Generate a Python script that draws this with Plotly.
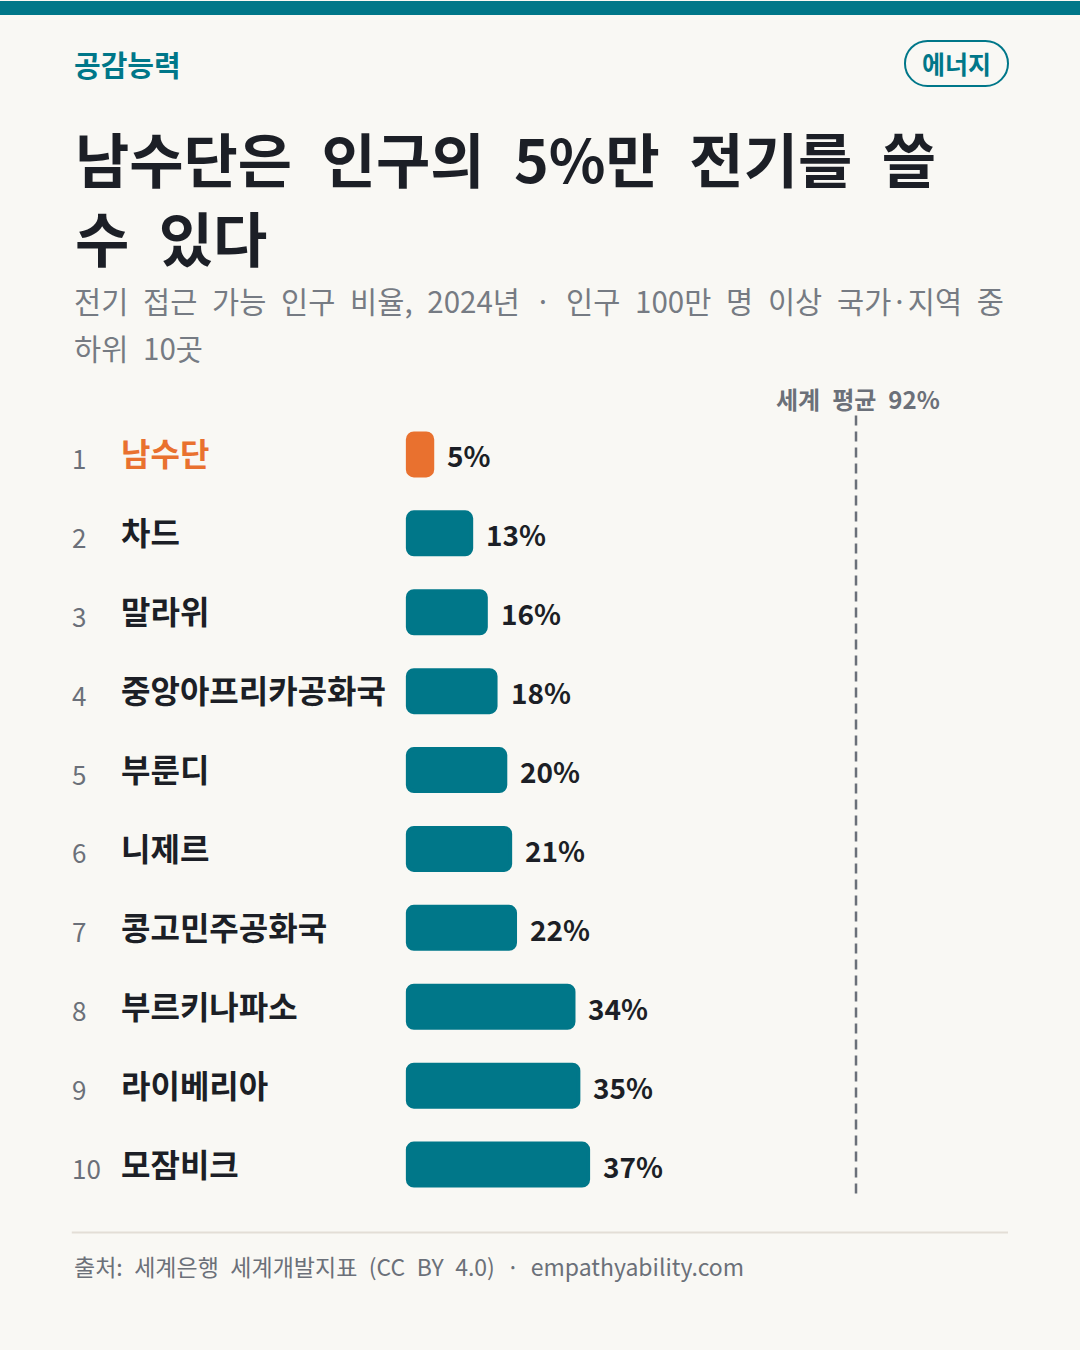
import plotly.graph_objects as go

# data
ranks = [1, 2, 3, 4, 5, 6, 7, 8, 9, 10]
countries = ["남수단", "차드", "말라위", "중앙아프리카공화국", "부룬디",
             "니제르", "콩고민주공화국", "부르키나파소", "라이베리아", "모잠비크"]
access_pct = [5, 13, 16, 18, 20, 21, 22, 34, 35, 37]
world_avg = 92

brand = "공감능력"
tag = "에너지"
title_lines = ["남수단은 인구의 5%만 전기를 쓸", "수 있다"]
subtitle_lines = ["전기 접근 가능 인구 비율, 2024년 · 인구 100만 명 이상 국가·지역 중", "하위 10곳"]
avg_label = "세계 평균 92%"
source = "출처: 세계은행 세계개발지표 (CC BY 4.0) · empathyability.com"

TEAL = "#007789"
ORANGE = "#e9712f"
DARK = "#1c1f26"
GRAY = "#6b7079"
BG = "#f9f8f4"
FONT = "Noto Sans CJK KR"


def wide(s):
    # the reference font has much wider word gaps
    return s.replace(" ", "\u2002")


W, H = 1080, 1350
px_per_unit = 4.87
L = 408 - px_per_unit      # x = -1 sits here, x = 0 at 408
R_EDGE = 1008
T, B = 414.5, 1350 - 1204.5
PW = R_EDGE - L
PH = H - T - B
xmax = PW / px_per_unit - 1


def px(xp):
    return (xp - L) / PW


def py(yp):
    return (H - B - yp) / PH


colors = [ORANGE if i == 0 else TEAL for i in range(len(countries))]

# explicit base so plotly rounds both ends of each bar
fig = go.Figure(go.Bar(
    x=access_pct, y=countries, base=[0] * len(access_pct), orientation="h",
    width=0.532,
    marker=dict(color=colors, cornerradius=6, line=dict(color=colors, width=4)),
    hoverinfo="skip",
))

ann = []
# rank numbers, names, values
for r, c, v in zip(ranks, countries, access_pct):
    ann.append(dict(x=px(70), y=c, xref="paper", yref="y", text=str(r), showarrow=False,
                    xanchor="left", yanchor="middle", yshift=-3,
                    font=dict(family=FONT, size=26, color=GRAY)))
    ann.append(dict(x=px(119), y=c, xref="paper", yref="y", text="<b>%s</b>" % c, showarrow=False,
                    xanchor="left", yanchor="middle", yshift=2,
                    font=dict(family=FONT, size=32, color=ORANGE if r == 1 else DARK)))
    ann.append(dict(x=v, y=c, xref="x", yref="y", text="<b>%d%%</b>" % v, showarrow=False,
                    xanchor="left", yanchor="middle", xshift=13, yshift=-1,
                    font=dict(family=FONT, size=28, color=DARK)))

# header texts
ann.append(dict(x=px(72), y=py(63), xref="paper", yref="paper", text="<b>%s</b>" % brand,
                showarrow=False, xanchor="left", yanchor="middle",
                font=dict(family=FONT, size=29, color=TEAL)))
ann.append(dict(x=px(956.5), y=py(62), xref="paper", yref="paper", text="<b>%s</b>" % tag,
                showarrow=False, xanchor="center", yanchor="middle",
                font=dict(family=FONT, size=25, color=TEAL)))
for i, line in enumerate(title_lines):
    ann.append(dict(x=px(73), y=py(157 + 79 * i), xref="paper", yref="paper",
                    text="<b>%s</b>" % wide(line), showarrow=False, xanchor="left", yanchor="middle",
                    font=dict(family=FONT, size=59, color=DARK)))
for i, line in enumerate(subtitle_lines):
    ann.append(dict(x=px(72), y=py(299 + 47 * i), xref="paper", yref="paper",
                    text=wide(line), showarrow=False, xanchor="left", yanchor="middle",
                    font=dict(family=FONT, size=29.5, color="#767b83")))
ann.append(dict(x=px(858), y=py(398), xref="paper", yref="paper", text="<b>%s</b>" % wide(avg_label),
                showarrow=False, xanchor="center", yanchor="middle",
                font=dict(family=FONT, size=24, color=GRAY)))
ann.append(dict(x=px(72), y=py(1267), xref="paper", yref="paper", text=wide(source),
                showarrow=False, xanchor="left", yanchor="middle",
                font=dict(family=FONT, size=23, color=GRAY)))

# pill outline around the tag
x0, x1, y0, y1 = 905, 1008, 40, 85
r = (y1 - y0) / 2
k = 0.5523 * r
pts = [("M", [(x0 + r, y0)]), ("L", [(x1 - r, y0)]),
       ("C", [(x1 - r + k, y0), (x1, y0 + r - k), (x1, y0 + r)]),
       ("C", [(x1, y0 + r + k), (x1 - r + k, y1), (x1 - r, y1)]),
       ("L", [(x0 + r, y1)]),
       ("C", [(x0 + r - k, y1), (x0, y0 + r + k), (x0, y0 + r)]),
       ("C", [(x0, y0 + r - k), (x0 + r - k, y0), (x0 + r, y0)])]
path = " ".join(cmd + " " + " ".join("%.5f,%.5f" % (px(a), py(b)) for a, b in p) for cmd, p in pts) + " Z"

shapes = [
    dict(type="rect", xref="paper", yref="paper", x0=px(0), x1=px(W), y0=py(0), y1=py(14),
         fillcolor=TEAL, line=dict(width=0), layer="below"),
    dict(type="path", xref="paper", yref="paper", path=path,
         line=dict(color=TEAL, width=2), fillcolor="rgba(0,0,0,0)"),
    dict(type="line", xref="x", yref="paper", x0=world_avg, x1=world_avg, y0=py(415), y1=py(1197),
         line=dict(color=GRAY, width=2.5, dash="10px,6px"), layer="below"),
    dict(type="line", xref="paper", yref="paper", x0=px(72), x1=px(1008), y0=py(1233), y1=py(1233),
         line=dict(color="#e3ded6", width=2)),
]

fig.update_layout(
    width=W, height=H,
    margin=dict(l=L, r=W - R_EDGE, t=T, b=B),
    paper_bgcolor=BG, plot_bgcolor=BG,
    showlegend=False,
    xaxis=dict(range=[-1, xmax], visible=False, fixedrange=True),
    yaxis=dict(autorange="reversed", visible=False, fixedrange=True),
    annotations=ann, shapes=shapes,
    font=dict(family=FONT),
)

fig.write_html("out.html", config={"displayModeBar": False},
               post_script="document.body.style.margin = '0';")
